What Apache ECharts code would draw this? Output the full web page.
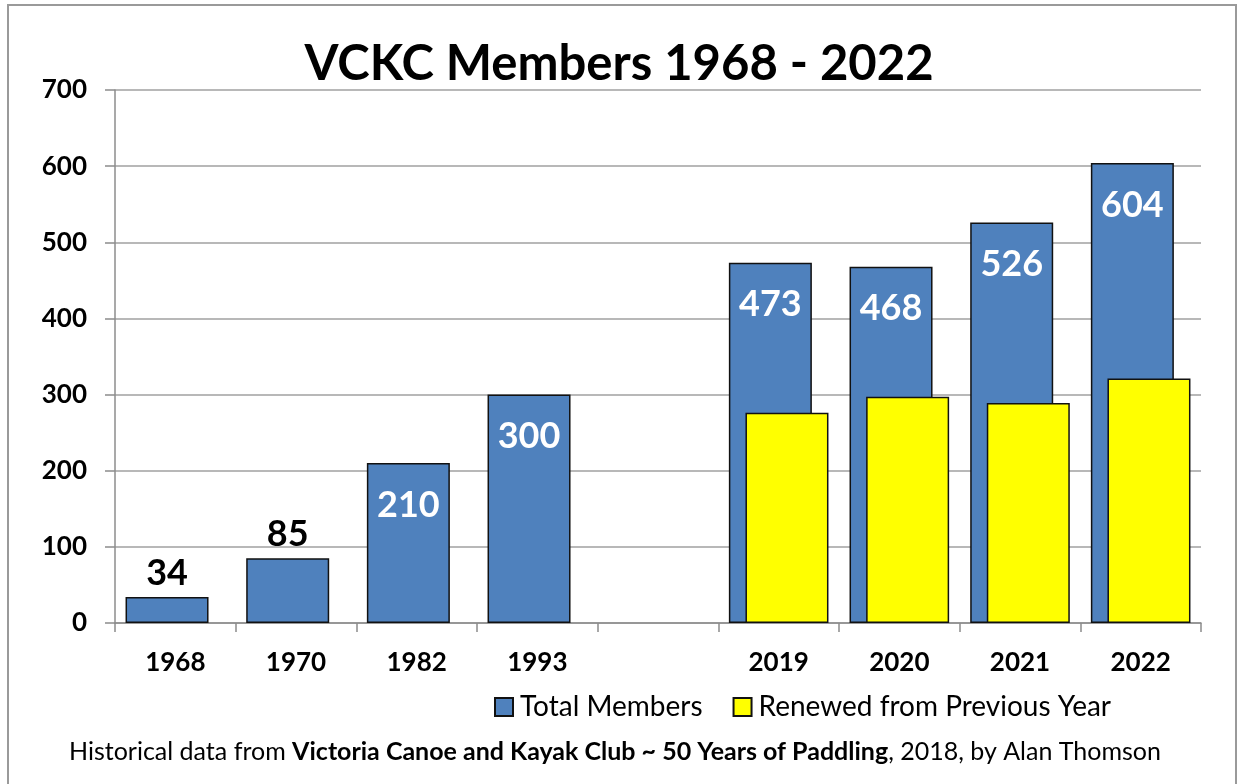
<!DOCTYPE html>
<html>
<head>
<meta charset="utf-8">
<script src="https://cdn.jsdelivr.net/npm/echarts@6/dist/echarts.min.js"></script>
<style>
html,body{margin:0;padding:0;background:#fff;}
#chart{width:1238px;height:784px;}
</style>
</head>
<body>
<div id="chart"></div>
<script>
const titleText = 'VCKC Members 1968 - 2022';
const categories = ['1968', '1970', '1982', '1993', '', '2019', '2020', '2021', '2022'];
const totalMembers = [34, 85, 210, 300, null, 473, 468, 526, 604];
const renewed = [null, null, null, null, null, 276, 297, 289, 321];
const seriesNames = ['Total Members', 'Renewed from Previous Year'];
const yMin = 0, yMax = 700, yStep = 100;

const FONT = 'Lato';
const chart = echarts.init(document.getElementById('chart'));

const totalData = totalMembers.map(function (v) {
  if (v === null) return null;
  const small = v < 150;
  return {
    value: v,
    label: small
      ? { show: true, position: 'top', distance: 6, color: '#000' }
      : { show: true, position: 'insideTop', distance: 24, color: '#fff' }
  };
});

chart.setOption({
  animation: false,
  backgroundColor: '#fff',
  title: {
    text: titleText,
    left: 'center',
    top: 35,
    textStyle: { fontFamily: FONT, fontWeight: 'bold', fontSize: 49, color: '#000' }
  },
  grid: { left: 115, right: 37, top: 90, bottom: 161, containLabel: false },
  legend: {
    left: 489, top: 688,
    itemWidth: 18, itemHeight: 18, itemGap: 30,
    icon: 'rect',
    textStyle: { fontFamily: FONT, fontSize: 28, color: '#000', padding: [0, 0, 0, 2] },
    data: seriesNames
  },
  xAxis: {
    type: 'category',
    data: categories,
    axisLine: { show: true, lineStyle: { color: '#8c8c8c', width: 1.5 } },
    axisTick: { show: true, length: 9, lineStyle: { color: '#8c8c8c', width: 1.5 } },
    axisLabel: { fontFamily: FONT, fontWeight: 'bold', fontSize: 26, color: '#000', margin: 27 }
  },
  yAxis: {
    type: 'value',
    min: yMin, max: yMax, interval: yStep,
    axisLine: { show: true, lineStyle: { color: '#8c8c8c', width: 1.5 } },
    axisTick: { show: true, length: 10, lineStyle: { color: '#8c8c8c', width: 1.5 } },
    splitLine: { show: true, lineStyle: { color: '#a0a0a0', width: 1.5 } },
    axisLabel: { fontFamily: FONT, fontWeight: 'bold', fontSize: 26, color: '#000', margin: 28 }
  },
  series: [
    {
      name: seriesNames[0],
      type: 'bar',
      data: totalData,
      barWidth: 83,
      barGap: '-80%',
      itemStyle: { color: '#4f81bd', borderColor: '#111', borderWidth: 1.5 },
      label: { fontFamily: FONT, fontWeight: 'bold', fontSize: 36 }
    },
    {
      name: seriesNames[1],
      type: 'bar',
      data: renewed,
      barWidth: 83,
      barGap: '-80%',
      itemStyle: { color: '#ffff00', borderColor: '#111', borderWidth: 1.5 }
    }
  ],
  graphic: [
    {
      type: 'rect',
      shape: { x: 8, y: 5, width: 1228, height: 800 },
      style: { fill: 'none', stroke: '#9a9a9a', lineWidth: 2 },
      silent: true
    },
    {
      type: 'text',
      x: 615, y: 752,
      style: {
        text: '{r|Historical data from }{b|Victoria Canoe and Kayak Club ~ 50 Years of Paddling}{r|, 2018, by Alan Thomson}',
        align: 'center', verticalAlign: 'middle',
        rich: {
          r: { fontFamily: FONT, fontSize: 25, color: '#000' },
          b: { fontFamily: FONT, fontSize: 25, fontWeight: 'bold', color: '#000' }
        }
      }
    }
  ]
});
</script>
</body>
</html>
